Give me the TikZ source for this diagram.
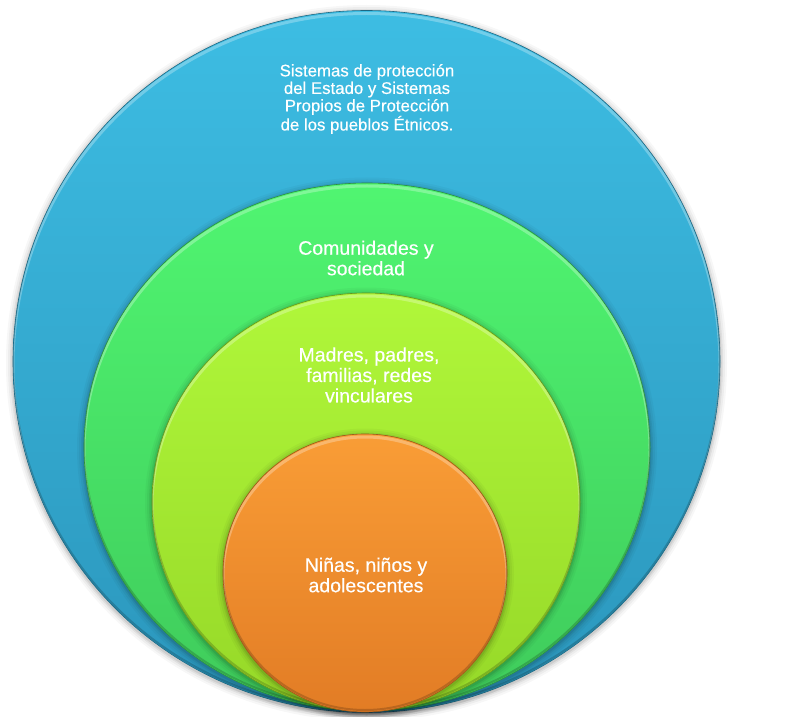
\documentclass[tikz,border=0pt]{standalone}
\usepackage{fontspec}
\setmainfont[FakeBold=0.35]{Liberation Sans}
\definecolor{blueT}{HTML}{3DBDE3}
\definecolor{blueB}{HTML}{2B96BC}
\definecolor{greenT}{HTML}{50F571}
\definecolor{greenB}{HTML}{3FCB5B}
\definecolor{limeT}{HTML}{B0F73A}
\definecolor{limeB}{HTML}{96D828}
\definecolor{orT}{HTML}{F99D36}
\definecolor{orB}{HTML}{E27C25}
\tikzset{
  lbl/.style={text=white, align=center, inner sep=0pt, font=\fontsize{19.5}{20.5}\selectfont},
  lblsmall/.style={text=white, align=center, inner sep=0pt, font=\fontsize{16.8}{17.5}\selectfont},
}
\begin{document}
\begin{tikzpicture}[x=1pt,y=1pt]
\useasboundingbox (0,0) rectangle (787,716);
\fill[white] (0,0) rectangle (787,716);
\foreach \cx/\cy/\rx/\ry/\ct/\cb in {
  366.5/354.5/353.5/351/blueT/blueB,
  367/269/283/264/greenT/greenB,
  366/214/214/209/limeT/limeB,
  365/143/142/139/orT/orB}{
  \foreach \d/\o in {7/0.03,5/0.04,3/0.06,1.5/0.08}
    \fill[black,opacity=\o] (\cx,\cy-1.5) ellipse [x radius=\rx+\d, y radius=\ry+\d];
  \shade[top color=\ct, bottom color=\cb] (\cx,\cy) ellipse [x radius=\rx, y radius=\ry];
  \begin{scope}
    \clip (\cx,\cy) ellipse [x radius=\rx, y radius=\ry];
    \draw[white,opacity=0.28,line width=3] (\cx,\cy-3) ellipse [x radius=\rx, y radius=\ry];
    \draw[black,opacity=0.18,line width=2] (\cx,\cy+2) ellipse [x radius=\rx, y radius=\ry];
  \end{scope}
  \draw[\cb!70!black,line width=0.6] (\cx,\cy) ellipse [x radius=\rx, y radius=\ry];
}
\node[lblsmall] (estado) at (367,617) {Sistemas de protección\\del Estado y Sistemas\\Propios de Protección\\de los pueblos Étnicos.};
\node[lbl] (comunidades) at (366,458) {Comunidades y\\sociedad};
\node[lbl] (familias) at (369,341) {Madres, padres,\\familias, redes\\vinculares};
\node[lbl] (ninos) at (366,141) {Niñas, niños y\\adolescentes};
\end{tikzpicture}
\end{document}
